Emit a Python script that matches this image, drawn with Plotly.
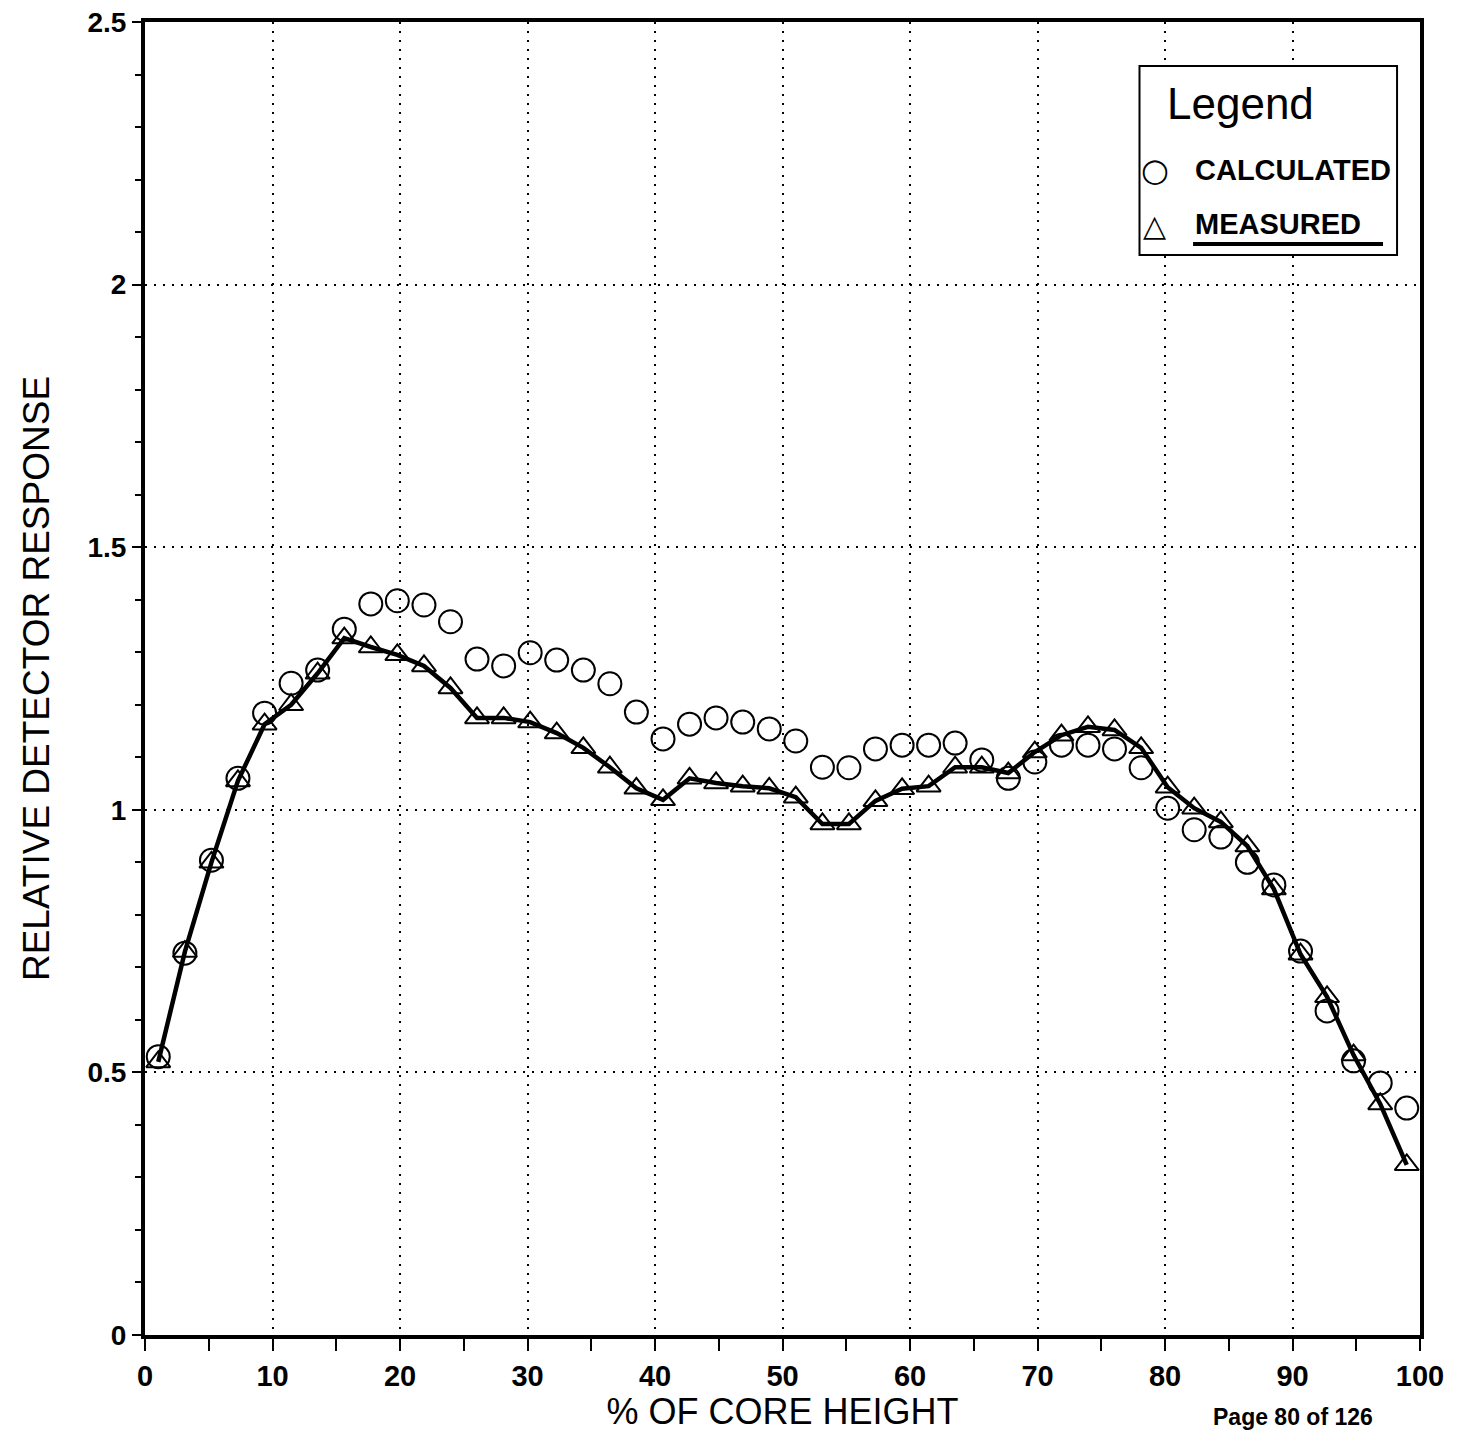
import plotly.graph_objects as go

core_height = [1.04, 3.13, 5.21, 7.29, 9.38, 11.46, 13.54, 15.63, 17.71, 19.79, 21.88, 23.96,
               26.04, 28.13, 30.21, 32.29, 34.38, 36.46, 38.54, 40.63, 42.71, 44.79, 46.88, 48.96,
               51.04, 53.13, 55.21, 57.29, 59.38, 61.46, 63.54, 65.63, 67.71, 69.79, 71.88, 73.96,
               76.04, 78.13, 80.21, 82.29, 84.38, 86.46, 88.54, 90.63, 92.71, 94.79, 96.88, 98.96]

calculated = [0.53, 0.727, 0.904, 1.06, 1.184, 1.241, 1.266, 1.344, 1.392, 1.398, 1.39, 1.358,
              1.287, 1.274, 1.299, 1.285, 1.266, 1.24, 1.186, 1.135, 1.163, 1.175, 1.167, 1.154,
              1.131, 1.081, 1.08, 1.116, 1.123, 1.123, 1.127, 1.095, 1.06, 1.091, 1.123, 1.123,
              1.116, 1.08, 1.003, 0.962, 0.948, 0.90, 0.857, 0.731, 0.617, 0.522, 0.48, 0.432]

measured = [0.52, 0.73, 0.90, 1.055, 1.163, 1.20, 1.26, 1.327, 1.31, 1.295, 1.274, 1.232,
            1.175, 1.175, 1.167, 1.146, 1.118, 1.081, 1.041, 1.019, 1.06, 1.051, 1.045, 1.041,
            1.024, 0.973, 0.973, 1.017, 1.04, 1.045, 1.081, 1.081, 1.07, 1.11, 1.142, 1.158,
            1.152, 1.118, 1.043, 1.003, 0.977, 0.931, 0.849, 0.725, 0.644, 0.533, 0.44, 0.324]

x_ticks = [0, 10, 20, 30, 40, 50, 60, 70, 80, 90, 100]
y_ticks = [0, 0.5, 1, 1.5, 2, 2.5]
y_tick_labels = ["0", "0.5", "1", "1.5", "2", "2.5"]

FONT = "Liberation Sans, Arial, sans-serif"

fig = go.Figure()
fig.add_trace(go.Scatter(
    x=core_height, y=calculated, mode="markers", name="CALCULATED",
    marker=dict(symbol="circle-open", size=23, color="black", line=dict(width=2, color="black")),
))
fig.add_trace(go.Scatter(
    x=core_height, y=measured, mode="lines+markers", name="MEASURED",
    line=dict(color="black", width=4.5),
    marker=dict(symbol="triangle-up-open", size=21, color="black", line=dict(width=2, color="black")),
))

fig.update_layout(
    width=1447, height=1424,
    margin=dict(l=137, r=35, t=14, b=97),
    paper_bgcolor="white", plot_bgcolor="white",
    font=dict(family=FONT, color="black"),
    showlegend=False,
    xaxis=dict(
        range=[0, 100], tickvals=x_ticks, ticktext=[str(v) for v in x_ticks],
        automargin=False, ticklabeloverflow="allow",
        showgrid=True, gridcolor="black", griddash="2px,7px", gridwidth=2,
        showline=True, linecolor="black", linewidth=4, mirror=True,
        ticks="outside", ticklen=12, tickwidth=2, tickcolor="black",
        minor=dict(dtick=5, ticks="outside", ticklen=12, tickwidth=1.5, tickcolor="black", showgrid=False),
        tickfont=dict(size=29, family=FONT, weight="bold"),
        title=dict(text="% OF CORE HEIGHT", font=dict(size=36, family=FONT), standoff=12),
        zeroline=False,
    ),
    yaxis=dict(
        range=[0, 2.5], tickvals=y_ticks, ticktext=y_tick_labels,
        automargin=False, ticklabeloverflow="allow",
        showgrid=True, gridcolor="black", griddash="2px,7px", gridwidth=2,
        showline=True, linecolor="black", linewidth=4, mirror=True,
        ticks="outside", ticklen=9, tickwidth=2, tickcolor="black",
        minor=dict(dtick=0.1, ticks="outside", ticklen=6, tickwidth=1.5, tickcolor="black", showgrid=False),
        tickfont=dict(size=28, family=FONT, weight="bold"),
        title=dict(text="RELATIVE DETECTOR RESPONSE", font=dict(size=37, family=FONT), standoff=28),
        zeroline=False,
    ),
)

# Legend box (drawn manually to match the original)
fig.add_shape(type="rect", xref="paper", yref="paper",
              x0=0.780, x1=0.982, y0=0.8225, y1=0.9665,
              line=dict(color="black", width=2), fillcolor="white", layer="above")
fig.add_annotation(text="Legend", xref="paper", yref="paper", x=0.800, y=0.938,
                   xanchor="left", yanchor="middle", showarrow=False,
                   font=dict(size=44, family=FONT))
fig.add_annotation(text="○", xref="paper", yref="paper", x=0.792, y=0.887,
                   xanchor="center", yanchor="middle", showarrow=False,
                   font=dict(size=32, family="DejaVu Sans"))
fig.add_annotation(text="CALCULATED", xref="paper", yref="paper", x=0.822, y=0.887,
                   xanchor="left", yanchor="middle", showarrow=False,
                   font=dict(size=29, family=FONT, weight="bold"))
fig.add_annotation(text="△", xref="paper", yref="paper", x=0.792, y=0.845,
                   xanchor="center", yanchor="middle", showarrow=False,
                   font=dict(size=30, family="DejaVu Sans"))
fig.add_annotation(text="MEASURED", xref="paper", yref="paper", x=0.822, y=0.846,
                   xanchor="left", yanchor="middle", showarrow=False,
                   font=dict(size=29, family=FONT, weight="bold"))
fig.add_shape(type="line", xref="paper", yref="paper",
              x0=0.822, x1=0.971, y0=0.831, y1=0.831,
              line=dict(color="black", width=4), layer="above")

fig.add_annotation(
    text="<b>Page 80 of 126</b>", xref="paper", yref="paper",
    x=0.965, y=-0.0735, xanchor="right", yanchor="bottom", showarrow=False,
    font=dict(size=23, family=FONT),
)

fig.write_html("out.html")
